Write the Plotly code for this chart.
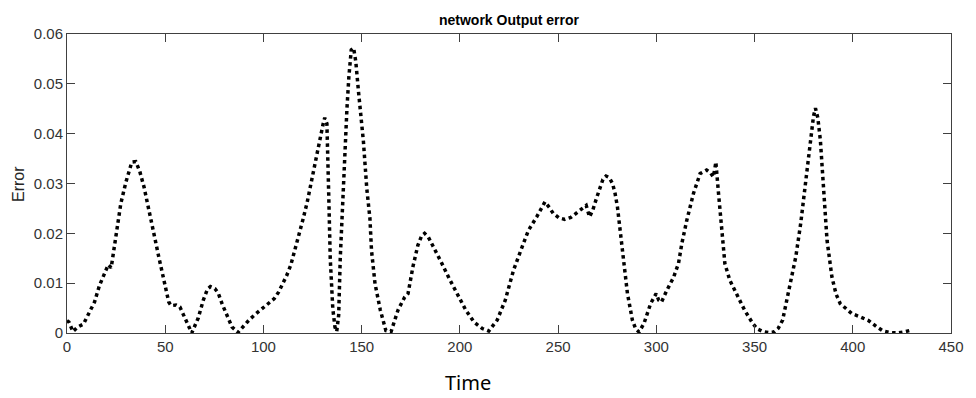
import plotly.graph_objects as go

# Network output error over time
time = [0, 1, 3, 5.5, 8.4, 11.4, 14, 16.5, 19, 21, 22.5, 24, 25.7, 27.4, 30, 31.6, 33, 35, 37,
        39.2, 41.7, 44.2, 46.7, 49.2, 51.8, 53, 55.5, 57.5, 59.3, 61.8, 63.5, 66.8, 69.4, 71.5,
        73, 75.3, 77, 79, 81.2, 84, 87, 90, 92.9, 96, 99.6, 102.5, 105.5, 107.7, 109.7, 111.8,
        113.9, 116, 118.1, 120.2, 122.3, 124, 125.7, 127.4, 129, 130.3, 131.2, 132.3, 133.2,
        134, 135.3, 136.4, 137.3, 138.3, 139.1, 140, 140.8, 141.7, 142.5, 143.5, 144.7, 145.9,
        147, 148.4, 149.6, 150.9, 152.6, 154.2, 155, 156.8, 159.5, 162.3, 165, 168.5, 171.9,
        173.6, 176.1, 178.6, 180.5, 182, 184, 186.2, 190.4, 194.6, 198.8, 203, 207.2, 211.4,
        214.7, 219, 223.1, 227.3, 231.6, 234.9, 239.1, 241.5, 243.3, 245.5, 247.5, 250.5, 253.4,
        256.5, 259.3, 262, 264.3, 266, 267.6, 269.5, 271, 272.8, 274.4, 276, 277.7, 279, 280.2,
        282, 283.6, 285.3, 287.8, 289.5, 291.2, 293.7, 297.1, 299.9, 301.2, 302.6, 305.4, 308.8,
        311.3, 313, 315.5, 318.9, 322.3, 325.6, 327.5, 329, 329.8, 330.3, 331.5, 333.2, 334.9,
        337.4, 340.7, 344.9, 349.1, 351.5, 354.2, 357, 360, 362, 364.3, 367.6, 371, 373.5, 376,
        378.5, 380, 381, 382.2, 383.5, 385.3, 386.9, 389.4, 391.5, 393.6, 399.5, 404, 408, 412,
        415.4, 419, 423, 426, 429]

error = [0.0025, 0.0022, 0.0003, 0.0012, 0.0018, 0.0040, 0.0062, 0.0095, 0.0120, 0.0137,
         0.0131, 0.0168, 0.0210, 0.0260, 0.0303, 0.0327, 0.0343, 0.0344, 0.0325, 0.0293,
         0.0243, 0.0200, 0.0153, 0.0106, 0.0062, 0.0055, 0.0056, 0.0052, 0.0036, 0.0012,
         0.0000, 0.0030, 0.0066, 0.0088, 0.0093, 0.0089, 0.0080, 0.0058, 0.0036, 0.0012,
         0.0001, 0.0015, 0.0027, 0.0038, 0.0049, 0.0058, 0.0069, 0.0082, 0.0097, 0.0115,
         0.0136, 0.0165, 0.0196, 0.0229, 0.0263, 0.0297, 0.0330, 0.0360, 0.0390, 0.0418,
         0.0432, 0.0420, 0.0283, 0.0150, 0.0049, 0.0012, 0.0003, 0.0036, 0.0150, 0.0240,
         0.0317, 0.0390, 0.0450, 0.0515, 0.0568, 0.0572, 0.0545, 0.0484, 0.0435, 0.0384,
         0.0290, 0.0230, 0.0166, 0.0099, 0.0046, 0.0005, 0.0003, 0.0046, 0.0072, 0.0079,
         0.0133, 0.0176, 0.0195, 0.0200, 0.0192, 0.0176, 0.0143, 0.0109, 0.0076, 0.0046,
         0.0022, 0.0009, 0.0004, 0.0026, 0.0066, 0.0126, 0.0172, 0.0206, 0.0233, 0.0252,
         0.0263, 0.0252, 0.0240, 0.0231, 0.0228, 0.0232, 0.0240, 0.0248, 0.0256, 0.0233,
         0.0246, 0.0270, 0.0290, 0.0308, 0.0315, 0.0312, 0.0300, 0.0280, 0.0253, 0.0186,
         0.0133, 0.0079, 0.0026, 0.0008, 0.0002, 0.0019, 0.0059, 0.0079, 0.0066, 0.0062,
         0.0086, 0.0112, 0.0140, 0.0180, 0.0226, 0.0280, 0.0320, 0.0327, 0.0322, 0.0313,
         0.0330, 0.0343, 0.0287, 0.0206, 0.0139, 0.0106, 0.0079, 0.0046, 0.0019, 0.0008,
         0.0003, 0.0001, 0.0002, 0.0009, 0.0026, 0.0086, 0.0153, 0.0220, 0.0307, 0.0387,
         0.0435, 0.0451, 0.0432, 0.0387, 0.0287, 0.0186, 0.0112, 0.0078, 0.0059, 0.0039,
         0.0032, 0.0025, 0.0013, 0.0004, 0.0001, 0.0000, 0.0002, 0.0005]

x_ticks = [0, 50, 100, 150, 200, 250, 300, 350, 400, 450]
y_ticks = [0, 0.01, 0.02, 0.03, 0.04, 0.05, 0.06]
y_tick_labels = ["0", "0.01", "0.02", "0.03", "0.04", "0.05", "0.06"]

axis_color = "#404040"
tick_font = dict(family="Liberation Sans, Arial, sans-serif", size=15, color="#333333")

fig = go.Figure()
fig.add_trace(go.Scatter(
    x=time, y=error, mode="lines",
    line=dict(color="black", width=3.5, dash="dot"),
    showlegend=False, hoverinfo="skip",
))

fig.update_layout(
    width=976, height=398,
    margin=dict(l=67, r=16, t=34, b=65),
    paper_bgcolor="white", plot_bgcolor="white",
    title=dict(
        text="<b>network Output error</b>",
        font=dict(family="Liberation Sans, Arial, sans-serif", size=14, color="black"),
        xref="paper", x=0.5, xanchor="center",
        yref="container", y=1 - 20 / 398, yanchor="middle",
    ),
)

fig.update_xaxes(
    range=[0, 450], tickvals=x_ticks, ticks="inside", ticklen=8, tickwidth=1,
    tickcolor=axis_color, showline=True, linecolor=axis_color, linewidth=1,
    mirror="ticks", showgrid=False, zeroline=False, tickfont=tick_font,
)
fig.update_yaxes(
    range=[0, 0.06], tickvals=y_ticks, ticktext=y_tick_labels, ticks="inside",
    ticklen=8, tickwidth=1, tickcolor=axis_color, showline=True, linecolor=axis_color,
    linewidth=1, mirror="ticks", showgrid=False, zeroline=False, tickfont=tick_font,
)

# Axis titles
fig.add_annotation(
    text="Error", textangle=-90, showarrow=False,
    xref="paper", yref="paper", x=-0.0549, y=0.5, xanchor="center", yanchor="middle",
    font=dict(family="Liberation Sans, Arial, sans-serif", size=16, color="#262626"),
)
fig.add_annotation(
    text="Time", showarrow=False,
    xref="paper", yref="paper", x=(472 - 67) / 893, y=-(382 - 333) / 299,
    xanchor="center", yanchor="middle",
    font=dict(family="Noto Sans, Open Sans, sans-serif", size=20, color="black"),
)

fig.write_html("out.html")
